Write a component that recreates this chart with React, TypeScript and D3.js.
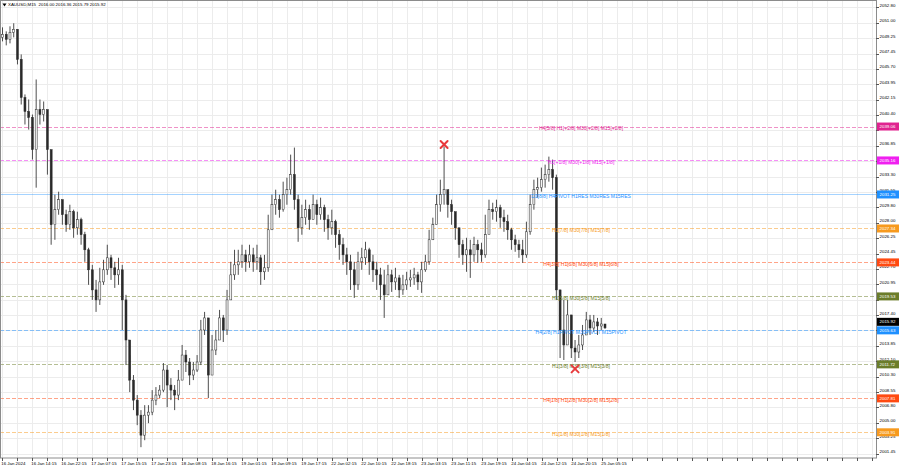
import React from 'react';
import * as d3 from 'd3';

// Hourly-aggregated candles
const firstOpen = 2049.3;
const closes = [
  2049.66, 2049.08, 2049.89, 2050.23, 2046.78, 2042.40, 2040.79, 2040.10, 2036.41, 2041.02,
  2040.44, 2041.02, 2036.41, 2027.77, 2029.50, 2030.65, 2028.92, 2027.77, 2029.27, 2027.42,
  2028.35, 2026.62, 2024.89, 2022.59, 2020.28, 2019.13, 2021.20, 2022.59, 2023.97, 2022.82,
  2022.01, 2022.59, 2019.13, 2014.52, 2009.91, 2007.61, 2005.88, 2003.58, 2005.88, 2006.23,
  2007.61, 2008.19, 2008.76, 2011.07, 2009.34, 2008.76, 2008.19, 2009.91, 2012.79, 2011.99,
  2010.49, 2011.07, 2011.99, 2015.67, 2017.06, 2010.49, 2013.37, 2014.52, 2017.06, 2015.67,
  2019.13, 2022.01, 2023.16, 2023.51, 2024.31, 2023.51, 2024.31, 2023.51, 2023.97, 2022.36,
  2022.82, 2027.19, 2030.07, 2030.65, 2029.50, 2031.23, 2031.80, 2033.53, 2030.65, 2027.42,
  2028.58, 2029.50, 2028.35, 2030.07, 2028.92, 2029.73, 2028.35, 2027.42, 2028.12, 2026.62,
  2025.47, 2024.31, 2023.51, 2022.59, 2020.86, 2023.51, 2023.97, 2024.89, 2023.51, 2022.59,
  2022.01, 2020.86, 2019.71, 2022.01, 2021.20, 2021.66, 2020.28, 2020.86, 2021.43, 2021.66,
  2022.01, 2021.20, 2022.59, 2023.51, 2026.04, 2027.77, 2030.07, 2031.23, 2031.80, 2030.07,
  2029.27, 2027.42, 2025.47, 2024.31, 2024.89, 2024.31, 2025.47, 2024.89, 2024.31, 2026.62,
  2029.50, 2029.27, 2029.73, 2028.58, 2028.12, 2027.19, 2026.04, 2025.47, 2024.89, 2024.31,
  2026.96, 2030.07, 2031.80, 2032.03, 2032.95, 2033.53, 2034.11, 2033.18, 2020.28, 2015.67,
  2013.95, 2017.40, 2013.60, 2013.14, 2013.95, 2015.10, 2016.83, 2015.90, 2016.60, 2016.13,
  2016.36, 2015.92
];
const highs = [
  2050.46, 2050.00, 2050.58, 2050.93, 2050.23, 2047.35, 2042.75, 2042.17, 2040.44, 2044.47,
  2042.17, 2041.94, 2040.79, 2034.11, 2031.23, 2031.57, 2030.65, 2029.50, 2030.07, 2029.50,
  2029.27, 2028.58, 2026.96, 2025.12, 2023.16, 2021.43, 2022.82, 2023.74, 2025.47, 2024.31,
  2023.51, 2023.97, 2023.16, 2019.71, 2012.79, 2010.49, 2008.19, 2006.46, 2007.03, 2007.03,
  2008.76, 2009.11, 2009.34, 2011.87, 2011.64, 2010.14, 2009.34, 2011.07, 2013.95, 2013.37,
  2012.45, 2011.99, 2012.79, 2016.83, 2017.75, 2016.83, 2015.10, 2015.67, 2017.98, 2017.40,
  2020.28, 2023.51, 2024.89, 2024.89, 2025.47, 2024.89, 2025.47, 2025.12, 2025.47, 2024.31,
  2024.31, 2028.92, 2031.23, 2031.80, 2031.23, 2032.72, 2033.18, 2035.83, 2036.64, 2031.23,
  2030.07, 2030.65, 2030.07, 2031.23, 2030.65, 2030.88, 2030.07, 2028.92, 2029.50, 2028.35,
  2027.19, 2026.27, 2025.12, 2024.31, 2023.51, 2024.66, 2025.12, 2025.81, 2025.12, 2024.31,
  2023.51, 2022.82, 2022.59, 2023.16, 2022.59, 2022.82, 2022.01, 2022.01, 2022.36, 2022.59,
  2022.82, 2022.36, 2023.51, 2024.31, 2027.19, 2028.58, 2031.23, 2032.95, 2036.76, 2031.57,
  2030.65, 2028.92, 2026.96, 2026.04, 2026.27, 2026.04, 2026.39, 2026.04, 2025.70, 2028.92,
  2030.65, 2030.30, 2030.65, 2030.07, 2029.50, 2028.92, 2027.42, 2026.62, 2026.04, 2026.04,
  2028.12, 2031.23, 2032.95, 2033.18, 2034.34, 2034.68, 2035.60, 2035.26, 2033.53, 2020.28,
  2019.13, 2019.13, 2017.40, 2014.52, 2015.10, 2016.25, 2017.75, 2017.40, 2017.40, 2017.06,
  2017.06, 2016.36
];
const lows = [
  2048.85, 2048.39, 2048.62, 2049.31, 2046.20, 2041.59, 2039.29, 2038.71, 2035.26, 2032.03,
  2039.29, 2039.64, 2033.53, 2025.47, 2026.04, 2028.92, 2027.77, 2026.96, 2027.19, 2026.27,
  2026.62, 2025.47, 2023.51, 2020.86, 2019.13, 2017.75, 2018.55, 2020.86, 2022.01, 2021.43,
  2020.51, 2020.86, 2015.67, 2011.64, 2008.53, 2006.46, 2004.73, 2002.20, 2003.00, 2004.96,
  2005.88, 2007.03, 2007.84, 2008.53, 2006.80, 2007.61, 2006.46, 2007.61, 2011.07, 2010.84,
  2009.34, 2009.91, 2010.84, 2011.64, 2015.10, 2007.84, 2011.64, 2012.79, 2014.52, 2014.29,
  2015.10, 2019.13, 2021.43, 2022.01, 2022.82, 2022.36, 2022.82, 2022.36, 2022.59, 2020.86,
  2021.43, 2022.36, 2027.77, 2028.92, 2028.58, 2029.27, 2030.07, 2031.23, 2029.50, 2025.81,
  2026.62, 2027.77, 2027.19, 2028.35, 2027.77, 2028.35, 2026.96, 2026.04, 2026.62, 2025.12,
  2023.74, 2023.16, 2022.01, 2020.28, 2019.36, 2020.28, 2022.59, 2023.16, 2022.01, 2021.20,
  2020.28, 2019.13, 2017.06, 2020.28, 2020.05, 2020.28, 2019.36, 2019.71, 2020.28, 2020.63,
  2020.86, 2020.28, 2019.94, 2022.36, 2023.16, 2026.04, 2027.77, 2029.27, 2030.07, 2028.58,
  2027.77, 2026.04, 2023.97, 2023.16, 2022.36, 2021.66, 2023.51, 2023.39, 2023.51, 2023.97,
  2027.77, 2028.35, 2028.12, 2027.42, 2026.96, 2026.04, 2024.89, 2024.66, 2023.97, 2023.39,
  2023.97, 2026.62, 2029.50, 2030.88, 2031.57, 2032.03, 2032.72, 2031.80, 2019.13, 2012.45,
  2012.22, 2013.95, 2012.45, 2011.99, 2012.45, 2013.37, 2015.10, 2015.10, 2015.44, 2015.10,
  2015.67, 2015.79
];

const titleText = 'XAUUSD,M15  2016.00 2016.36 2015.79 2015.92';
const currentPrice = 2015.92;

const priceTicks = [
  '2052.80', '2051.00', '2049.25', '2047.45', '2045.70', '2043.95', '2042.15', '2040.40',
  '2038.65', '2036.85', '2035.10', '2033.30', '2031.55', '2029.80', '2028.00', '2026.25',
  '2024.45', '2022.70', '2020.95', '2019.15', '2017.40', '2015.65', '2013.85', '2012.10',
  '2010.30', '2008.55', '2006.80', '2005.00', '2003.25', '2001.45'
];

const timeLabels = [
  '16 Jan 2024', '16 Jan 14:15', '16 Jan 22:15', '17 Jan 07:15', '17 Jan 15:15', '17 Jan 23:15',
  '18 Jan 08:15', '18 Jan 16:15', '19 Jan 01:15', '19 Jan 09:15', '19 Jan 17:15', '22 Jan 02:15',
  '22 Jan 10:15', '22 Jan 18:15', '23 Jan 03:15', '23 Jan 11:15', '23 Jan 19:15', '24 Jan 04:15',
  '24 Jan 12:15', '24 Jan 20:15', '25 Jan 05:15'
];
const barsPerLabel = 32; // M15 bars between time labels

const levelValues = [2039.06, 2035.16, 2031.25, 2027.34, 2023.44, 2019.53, 2015.63, 2011.72, 2007.81, 2003.91];
const levelNames = [
  'H4[5/8] H1[+2/8] M30[+2/8] M15[+2/8]',
  'H1[+1/8] M30[+1/8] M15[+1/8]',
  'D1[8/8] H4PIVOT H1RES M30RES M15RES',
  'H1[7/8] M30[7/8] M15[7/8]',
  'H4[3/8] H1[6/8] M30[6/8] M15[6/8]',
  'H1[5/8] M30[5/8] M15[5/8]',
  'H4[2/8] H1PIVOT M30PIVOT M15PIVOT',
  'H1[3/8] M30[3/8] M15[3/8]',
  'H4[1/8] H1[2/8] M30[2/8] M15[2/8]',
  'H1[1/8] M30[1/8] M15[1/8]'
];
const levelColors = [
  '#e0238f', '#f020f0', '#1e90ff', '#f79a1e', '#ff4a12', '#6b7d2a', '#1e90ff', '#6b7d2a', '#ff4a12', '#f79a1e'
];

const markerIndex = [118, 153];
const markerPrice = [2037.0, 2011.2];

const W = 900;
const H = 468;
const plotRight = 876;
const plotBottom = 458;
const FONT = '"Liberation Sans", Arial, sans-serif';

export default function App() {
  const y = d3.scaleLinear().domain([2001.45, 2052.8]).range([453.7, 7.0]);
  const n = closes.length;
  const xc = d3.scaleLinear().domain([0, n - 1]).range([2.5, 605]);
  const xm = d3.scaleLinear().domain([0, barsPerLabel]).range([1.7, 31.7]);
  const totalBars = Math.floor(xm.invert(plotRight));
  const gridBars = d3.range(0, totalBars + 1, barsPerLabel / 2);

  const candles = closes.map((c, i) => {
    const o = i === 0 ? firstOpen : closes[i - 1];
    return { o, c, h: highs[i], l: lows[i], i };
  });

  const pivY = y(levelValues[6]);
  const curY = Math.min(y(currentPrice), pivY - 8.5);
  const boxYs = levelValues.map((v) => y(v)).concat([curY]);
  const visibleTicks = priceTicks.filter((t) => boxYs.every((by) => Math.abs(y(+t) - 1.5 - by) > 3));

  return (
    <svg width={W} height={H} style={{ position: 'absolute', left: 0, top: 0, background: '#fff' }}
      fontFamily={FONT}>
      <rect x={0} y={0} width={W} height={H} fill="#fff" />
      {/* grid */}
      {priceTicks.map((t) => (
        <line key={'hg' + t} x1={0} x2={plotRight} y1={Math.round(y(+t)) + 0.5} y2={Math.round(y(+t)) + 0.5}
          stroke="#ececec" strokeWidth={1} />
      ))}
      {gridBars.map((b) => (
        <line key={'vg' + b} x1={Math.round(xm(b)) + 0.5} x2={Math.round(xm(b)) + 0.5} y1={0} y2={plotBottom}
          stroke="#ececec" strokeWidth={1} />
      ))}
      {/* murrey levels */}
      {levelValues.map((v, k) => (
        <line key={'lv' + k} x1={0} x2={plotRight} y1={Math.round(y(v)) + 0.5} y2={Math.round(y(v)) + 0.5}
          stroke={levelColors[k]} strokeOpacity={k === 2 ? 0.4 : 0.5} strokeWidth={1}
          strokeDasharray={k === 2 ? undefined : '4 2'} />
      ))}
      {/* candles */}
      {candles.map((d) => {
        const x = xc(d.i);
        const top = y(Math.max(d.o, d.c));
        const bot = y(Math.min(d.o, d.c));
        const bull = d.c >= d.o;
        return (
          <g key={'c' + d.i}>
            <line x1={x} x2={x} y1={y(d.h)} y2={y(d.l)} stroke="#3a3a3a" strokeWidth={0.9} />
            <rect x={x - 1} y={top} width={2} height={Math.max(0.8, bot - top)}
              fill={bull ? '#f4f4f4' : '#2a2a2a'} stroke="#2a2a2a" strokeWidth={0.5} />
          </g>
        );
      })}
      {/* level texts */}
      {levelValues.map((v, k) => (
        <text key={'lt' + k} x={581} y={y(v) + 2} fontSize={5} fill={levelColors[k]}
          textAnchor="middle" dominantBaseline="middle">{levelNames[k]}</text>
      ))}
      {/* fractal markers */}
      {markerIndex.map((mi, k) => {
        const cx = xc(mi);
        const cy = y(markerPrice[k]);
        const r = 3.5;
        return (
          <g key={'mk' + k} stroke="#e8393c" strokeWidth={2} strokeLinecap="round">
            <line x1={cx - r} y1={cy - r} x2={cx + r} y2={cy + r} />
            <line x1={cx - r} y1={cy + r} x2={cx + r} y2={cy - r} />
          </g>
        );
      })}
      {/* frame */}
      <rect x={0.5} y={0.5} width={plotRight} height={plotBottom - 0.5} fill="none" stroke="#8c8c8c" strokeWidth={1} />
      {/* title */}
      <path d="M2.5,3.5 L6.5,3.5 L4.5,6.5 Z" fill="#000" />
      <text x={8} y={5} fontSize={4.4} fill="#000" dominantBaseline="middle" xmlSpace="preserve">{titleText}</text>
      {/* right axis */}
      {priceTicks.map((t) => (
        <line key={'ptk' + t} x1={plotRight} x2={plotRight + 3} y1={Math.round(y(+t)) + 0.5} y2={Math.round(y(+t)) + 0.5} stroke="#555" />
      ))}
      {visibleTicks.map((t) => (
        <text key={'pt' + t} x={879.5} y={y(+t) - 1.5} fontSize={4.4} fill="#000" dominantBaseline="middle">{t}</text>
      ))}
      {levelValues.map((v, k) => (
        <g key={'lb' + k}>
          <rect x={877} y={y(v) - 4} width={22} height={8} fill={levelColors[k]} />
          <text x={879.5} y={y(v) + 0.3} fontSize={4.4} fill="#fff" dominantBaseline="middle">{v.toFixed(2)}</text>
        </g>
      ))}
      <rect x={877} y={curY - 4} width={22} height={8} fill="#000" />
      <text x={879.5} y={curY + 0.3} fontSize={4.4} fill="#fff" dominantBaseline="middle">{currentPrice.toFixed(2)}</text>
      {/* bottom axis */}
      {gridBars.map((b) => (
        <line key={'bt' + b} x1={Math.round(xm(b)) + 0.5} x2={Math.round(xm(b)) + 0.5} y1={plotBottom} y2={plotBottom + 3} stroke="#555" />
      ))}
      {timeLabels.map((t, k) => (
        <text key={'tl' + t} x={xm(k * barsPerLabel) - 0.5} y={463.5} fontSize={4.4} fill="#000" dominantBaseline="middle">{t}</text>
      ))}
    </svg>
  );
}
